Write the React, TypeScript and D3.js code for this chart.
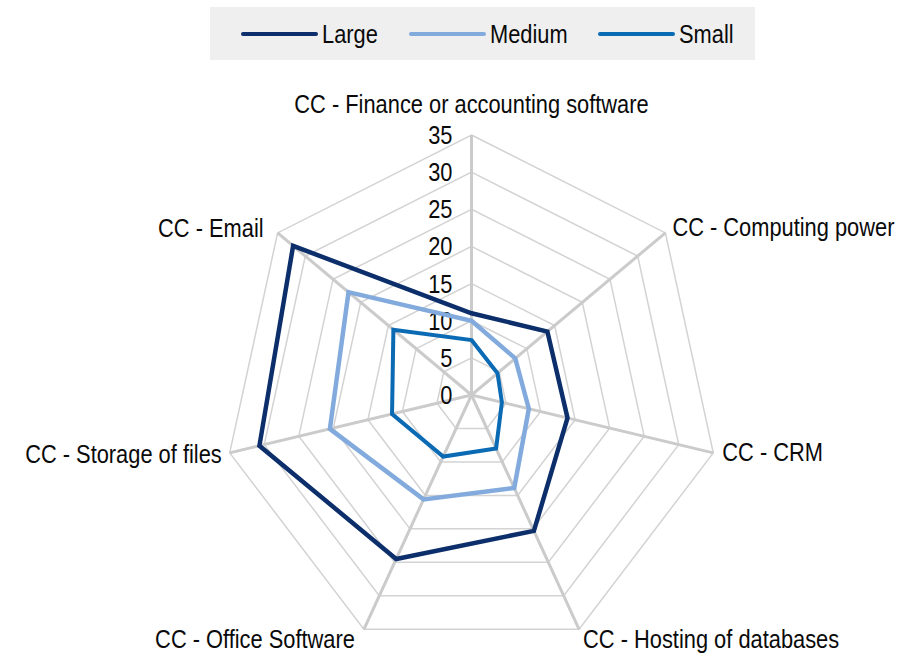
import React from "react";
import * as d3 from "d3";

const axisLabels = [
  "CC - Finance or accounting software",
  "CC - Computing power",
  "CC - CRM",
  "CC - Hosting of databases",
  "CC - Office Software",
  "CC - Storage of files",
  "CC - Email",
];
const seriesNames = ["Large", "Medium", "Small"];
const largeValues = [11, 13.7, 13.9, 20.3, 24.5, 30.7, 32.2];
const mediumValues = [10, 7.9, 8.3, 13.9, 15.6, 20.5, 22.2];
const smallValues = [7.4, 4.7, 4.4, 8.0, 9.2, 11.5, 14.1];
const tickValues = [0, 5, 10, 15, 20, 25, 30, 35];

const seriesColors: Record<string, string> = {
  Large: "#0c2f6b",
  Medium: "#82aadd",
  Small: "#0a6ab3",
};
const seriesWidths: Record<string, number> = { Large: 4.5, Medium: 4.5, Small: 4 };

// label placement relative to each spoke end
const labelPos = [
  { anchor: "middle", dx: 0, dy: -22 },
  { anchor: "start", dx: 7, dy: 3 },
  { anchor: "start", dx: 9, dy: 8 },
  { anchor: "start", dx: 4, dy: 19 },
  { anchor: "end", dx: -9, dy: 19 },
  { anchor: "end", dx: -8, dy: 10 },
  { anchor: "end", dx: -14, dy: 4 },
];

const W = 920;
const H = 655;
const cx = 471.5;
const cy = 395;
const font = "'Liberation Sans', Arial, sans-serif";
const SQ = 0.84; // narrow look

// squeezed text, like Arial Narrow
function Txt(props: { x: number; y: number; anchor?: string; children: React.ReactNode }) {
  return (
    <text
      transform={`translate(${props.x},${props.y}) scale(${SQ},1)`}
      textAnchor={(props.anchor || "start") as any}
      fontFamily={font}
      fontSize={26}
      fill="#0a0a0a"
    >
      {props.children}
    </text>
  );
}

export default function App() {
  const n = axisLabels.length;
  const rx = d3.scaleLinear().domain([0, 35]).range([0, 248]);
  const ry = d3.scaleLinear().domain([0, 35]).range([0, 260]);
  const angle = (i: number) => (i * 2 * Math.PI) / n;
  const pt = (i: number, v: number): [number, number] => [
    cx + rx(v) * Math.sin(angle(i)),
    cy - ry(v) * Math.cos(angle(i)),
  ];

  const closed = d3.line().curve(d3.curveLinearClosed);
  const series = [
    { key: "Large", values: largeValues },
    { key: "Medium", values: mediumValues },
    { key: "Small", values: smallValues },
  ];

  const legendX = [243, 411, 600];

  return (
    <div style={{ position: "absolute", left: 0, top: 0 }}>
      <svg width={W} height={H} style={{ display: "block", background: "#fff" }}>
        <rect x={210} y={7} width={545} height={53} fill="#efefef" />
        {seriesNames.map((s, i) => (
          <g key={s}>
            <line
              x1={legendX[i]}
              x2={legendX[i] + 73}
              y1={34}
              y2={34}
              stroke={seriesColors[s]}
              strokeWidth={4}
              strokeLinecap="round"
            />
            <Txt x={legendX[i] + 79} y={43}>{s}</Txt>
          </g>
        ))}

        {/* rings */}
        {tickValues.slice(1).map((t) => (
          <path
            key={"r" + t}
            d={closed(d3.range(n).map((i) => pt(i, t))) || ""}
            fill="none"
            stroke="#d3d3d3"
            strokeWidth={1.5}
          />
        ))}
        {/* spokes */}
        {d3.range(n).map((i) => {
          const [x, y] = pt(i, 35);
          return <line key={"s" + i} x1={cx} y1={cy} x2={x} y2={y} stroke="#cbcbcb" strokeWidth={3} />;
        })}

        {/* tick labels */}
        {tickValues.map((t) => (
          <Txt key={"t" + t} x={cx - 19} y={cy - ry(t) + 9} anchor="end">
            {t}
          </Txt>
        ))}

        {/* series */}
        {series.map((s) => (
          <path
            key={s.key}
            d={closed(s.values.map((v, i) => pt(i, v))) || ""}
            fill="none"
            stroke={seriesColors[s.key]}
            strokeWidth={seriesWidths[s.key]}
            strokeLinejoin="miter"
          />
        ))}

        {/* axis labels */}
        {axisLabels.map((lab, i) => {
          const [x, y] = pt(i, 35);
          const p = labelPos[i];
          return (
            <Txt key={lab} x={x + p.dx} y={y + p.dy} anchor={p.anchor}>
              {lab}
            </Txt>
          );
        })}
      </svg>
    </div>
  );
}
